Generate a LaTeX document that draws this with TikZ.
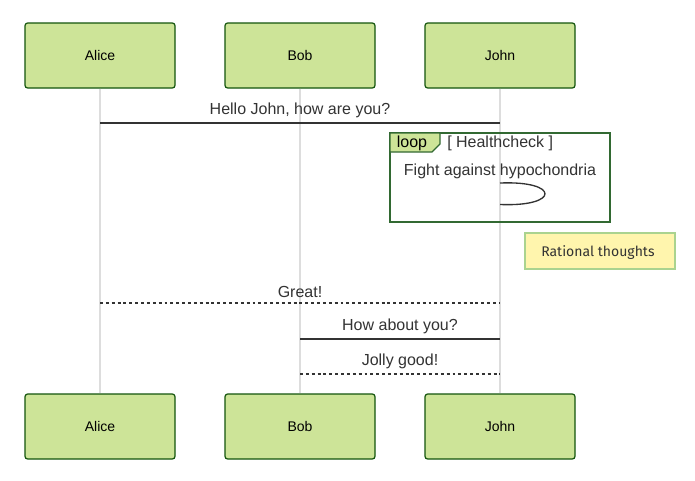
\documentclass[tikz,border=0pt]{standalone}
\usepackage{fontspec}
\setmainfont{Liberation Sans}
\newfontfamily\notefont{Fira Sans}
\begin{document}
\begin{tikzpicture}[x=0.75pt,y=-0.75pt,
  actor/.style={draw=actorline,fill=actorfill,rounded corners=2pt,line width=0.9pt,
    minimum width=150*0.75pt,minimum height=65*0.75pt,inner sep=0pt,font=\fontsize{10.5}{12}\selectfont},
  lifeline/.style={draw=lifecol,line width=1.1pt},
  msg/.style={draw=msgcol,line width=1.4pt},
  reply/.style={draw=msgcol,line width=1.4pt,dash pattern=on 2.2pt off 2.2pt},
  msgtext/.style={text=msgcol,font=\fontsize{12}{14}\selectfont,inner sep=0pt},
  loopframe/.style={draw=loopcol,line width=1.5pt},
  notebox/.style={draw=notebord,fill=notefill,line width=1.4pt,minimum width=150*0.75pt,
    minimum height=36*0.75pt,inner sep=0pt},
  notetext/.style={inner sep=0pt,font=\notefont\fontsize{10.5}{12}\selectfont,text=msgcol}]
\definecolor{actorfill}{HTML}{CDE498}
\definecolor{actorline}{HTML}{13540C}
\definecolor{lifecol}{HTML}{DDDDDD}
\definecolor{msgcol}{HTML}{333333}
\definecolor{loopcol}{HTML}{326932}
\definecolor{notefill}{HTML}{FFF5AD}
\definecolor{notebord}{HTML}{AAD38F}
\useasboundingbox (0,0) rectangle (695,480);
\fill[white] (0,0) rectangle (695,480);

% actor heads and feet
\node[actor] (alice) at (100,55.5) {\raisebox{-0.75pt}{Alice}};
\node[actor] (bob)   at (300,55.5) {\raisebox{-0.75pt}{Bob}};
\node[actor] (john)  at (500,55.5) {\raisebox{-0.75pt}{John}};
\node[actor] (aliceB) at (100,426.5) {\raisebox{-0.75pt}{Alice}};
\node[actor] (bobB)   at (300,426.5) {\raisebox{-0.75pt}{Bob}};
\node[actor] (johnB)  at (500,426.5) {\raisebox{-0.75pt}{John}};

% lifelines
\draw[lifeline] (alice.south) -- (aliceB.north);
\draw[lifeline] (bob.south) -- (bobB.north);
\draw[lifeline] (john.south) -- (johnB.north);

% message anchors on the lifelines
\coordinate (a1) at (100,123); \coordinate (j1) at (500,123);
\coordinate (a2) at (100,303); \coordinate (j2) at (500,303);
\coordinate (b3) at (300,339); \coordinate (j3) at (500,339);
\coordinate (b4) at (300,374); \coordinate (j4) at (500,374);

\draw[msg] (a1) -- node[msgtext,above=3.5pt] (m1) {Hello John, how are you?} (j1);

% loop fragment
\draw[loopframe] (390,133) rectangle (610,222);
\draw[loopframe,fill=actorfill,line width=1pt] (390,133) -- (440,133) -- (440,144) -- (432,152) -- (390,152) -- cycle;
\node[inner sep=0pt,font=\fontsize{12}{14}\selectfont,text=black] (looplbl) at (412,143) {loop};
\node[inner sep=0pt,font=\fontsize{12}{14}\selectfont,text=msgcol,anchor=west] (loopcond) at (447,143) {[ Healthcheck ]};
\node[msgtext] (m2) at (500,171.5) {Fight against hypochondria};
\coordinate (s1) at (500,183); \coordinate (s2) at (500,204.5);
\draw[msgcol,line width=1pt] (s1) .. controls (560,180.5) and (560,207) .. (s2);

% note
\node[notebox] (note) at (600,251) {};
\node[notetext,anchor=west] (notelbl) at (541,252.5) {Rational thoughts};

\draw[reply] (a2) -- node[msgtext,above=3.5pt] (m3) {Great!} (j2);
\draw[msg] (b3) -- node[msgtext,above=3.5pt] (m4) {How about you?} (j3);
\draw[reply] (b4) -- node[msgtext,above=3.5pt] (m5) {Jolly good!} (j4);
\end{tikzpicture}
\end{document}
